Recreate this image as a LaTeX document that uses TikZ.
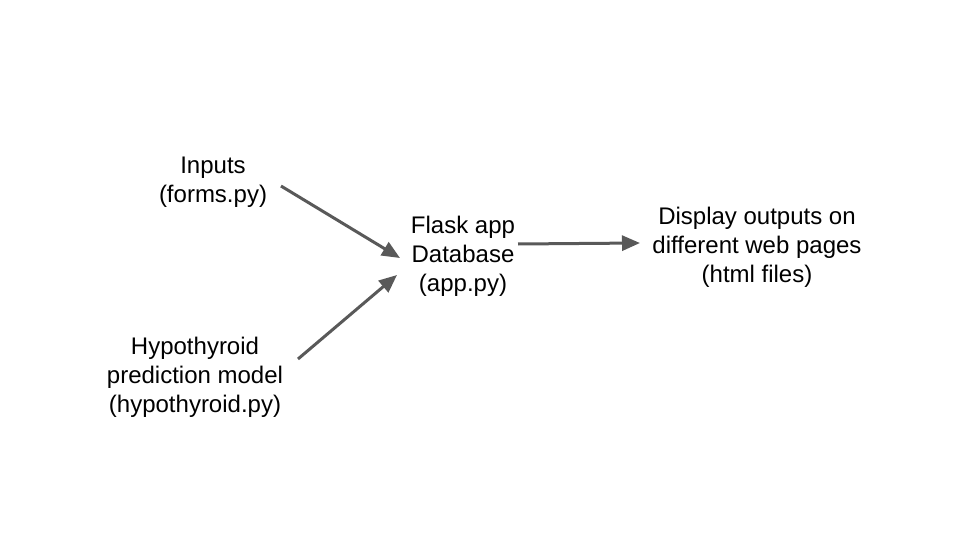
\documentclass[tikz,border=0pt]{standalone}
\usepackage{fontspec}
\setmainfont{Liberation Sans}
\usetikzlibrary{arrows.meta}
\begin{document}
\begin{tikzpicture}[x=1pt,y=-1pt,
  lbl/.style={align=center,font=\fontsize{24}{29}\selectfont,inner sep=0pt,text=black},
  conn/.style={draw=black!65,line width=3pt,-{Triangle[length=18pt,width=15pt]}}]
\useasboundingbox (0,0) rectangle (960,540);
\node[lbl] (inp) at (213,182) {Inputs\\(forms.py)};
\node[lbl] (hyp) at (195,377) {Hypothyroid\\prediction model\\(hypothyroid.py)};
\node[lbl] (flask) at (463,256) {Flask app\\Database\\(app.py)};
\node[lbl] (disp) at (757,247) {Display outputs on\\different web pages\\(html files)};
\coordinate (s1) at (281,186);
\coordinate (e1) at (400,258);
\coordinate (s2) at (298,359);
\coordinate (e2) at (397,275);
\coordinate (s3) at (518,244);
\coordinate (e3) at (640,243);
\draw[conn] (s1) -- (e1);
\draw[conn] (s2) -- (e2);
\draw[conn] (s3) -- (e3);
\end{tikzpicture}
\end{document}
